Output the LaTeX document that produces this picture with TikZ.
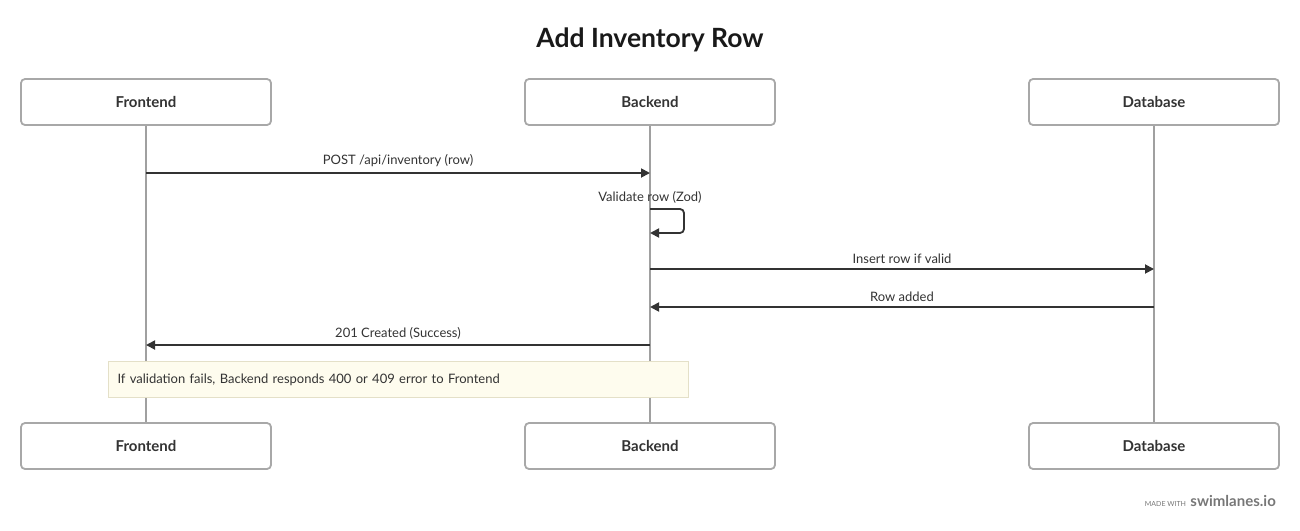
\documentclass[tikz,border=0pt]{standalone}
\usepackage{fontspec}
\setmainfont{Lato}
\usepackage{xcolor}
\usepackage{tikz}
\usetikzlibrary{arrows.meta,positioning}

\definecolor{ink}{HTML}{333333}
\definecolor{boxgray}{HTML}{A8A8A8}
\definecolor{linegray}{HTML}{A0A0A0}
\definecolor{notefill}{HTML}{FEFCEE}
\definecolor{noteline}{HTML}{E4E0C8}
\definecolor{brandgray}{HTML}{777777}

\begin{document}
\begin{tikzpicture}[x=1pt, y=-1pt,
  actor/.style={draw=boxgray, line width=1.8pt, rounded corners=4pt, fill=white,
    minimum width=250pt, minimum height=46pt, text=ink,
    font=\bfseries\fontsize{15}{17}\selectfont},
  life/.style={draw=linegray, line width=1.8pt},
  msg/.style={draw=ink, line width=1.8pt, -{Triangle[length=9pt,width=9pt]}},
  lbl/.style={text=ink, inner sep=0pt, font=\fontsize{13}{15}\selectfont},
  note/.style={draw=noteline, fill=notefill, line width=1pt, text=ink,
    minimum height=36pt, text width=562pt, inner sep=9pt, align=left,
    font=\fontsize{13}{15}\selectfont}]
  \useasboundingbox (0,0) rectangle (1300,530);

  % Title
  \node[font=\bfseries\fontsize{26.5}{30}\selectfont, text=black!90] (title) at (650,40) {Add Inventory Row};

  % Actors, top and bottom, with lifelines
  \foreach \n/\x/\t in {fe/146/Frontend, be/650/Backend, db/1154/Database} {
    \node[actor] (\n-top) at (\x,102) {\t};
    \node[actor] (\n-bot) at (\x,446) {\t};
    \draw[life] (\n-top.south) -- (\n-bot.north);
    % message points on this lifeline
    \foreach \k/\y in {1/173, 2/209, 3/269, 4/307, 5/345}
      \coordinate (\n\k) at (\x,\y);
  }
  \coordinate (be2b) at (650,233);

  % Messages
  \draw[msg] (fe1) -- (be1) node[lbl, midway, above=5pt] {POST /api/inventory (row)};
  \draw[msg, rounded corners=4pt] (be2) node[lbl, above=5pt] {Validate row (Zod)}
    -- ++(34,0) |- (be2b);
  \draw[msg] (be3) -- (db3) node[lbl, midway, above=5pt] {Insert row if valid};
  \draw[msg] (db4) -- (be4) node[lbl, midway, above=5pt] {Row added};
  \draw[msg] (be5) -- (fe5) node[lbl, midway, above=5pt] {201 Created (Success)};

  % Note
  \node[note, anchor=north west] (failnote) at (108,361)
    {If validation fails, Backend responds 400 or 409 error to Frontend};

  % Watermark
  \node[anchor=east, inner sep=0pt, text=brandgray, font=\bfseries\fontsize{15}{17}\selectfont] (brand) at (1276,501) {swimlanes.io};
  \node[anchor=base east, inner sep=0pt, text=brandgray, font=\fontsize{7}{8}\selectfont] (made) at ([xshift=-4pt]brand.base west) {MADE WITH};
\end{tikzpicture}
\end{document}
